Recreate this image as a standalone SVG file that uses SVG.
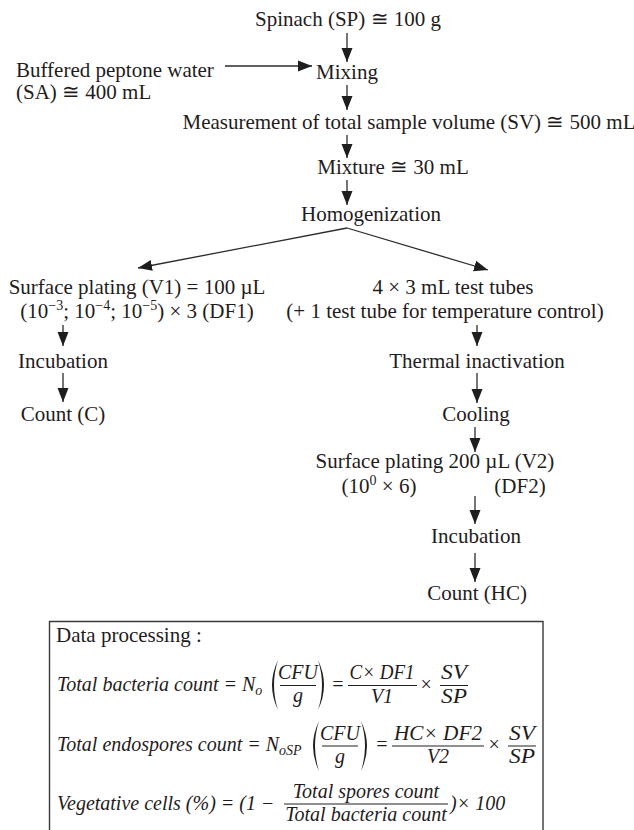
<svg xmlns="http://www.w3.org/2000/svg" width="634" height="830" viewBox="0 0 634 830">
  <style>
    .t { font-family: "Liberation Serif", "Times New Roman", serif; font-size: 21px; fill: #1f1c1d; }
    .c { text-anchor: middle; }
    .sup { font-size: 14px; }
    .m { font-family: "Liberation Serif", "Times New Roman", serif; font-style: italic; font-size: 20px; fill: #1f1c1d; }
    .mc { text-anchor: middle; }
    .sub { font-size: 14px; }
    .link { stroke: #2b2b2b; stroke-width: 1.3; fill: none; marker-end: url(#head); }
    .bar { stroke: #231f20; stroke-width: 1; }
    .paren { fill: #231f20; }
    .frame { stroke: #3a3a3a; stroke-width: 1.4; fill: none; }
  </style>
  <defs>
    <marker id="head" markerUnits="userSpaceOnUse" markerWidth="15" markerHeight="12" refX="14" refY="6" orient="auto">
      <path d="M0,0.5 L14,6 L0,11.5 Z" fill="#1e1e1e"/>
    </marker>
  </defs>

  <rect width="634" height="830" fill="#ffffff"/>

  <!-- connectors -->
  <g id="connectors">
    <line class="link" x1="347" y1="33" x2="347" y2="62"/>
    <line class="link" x1="225" y1="66" x2="312" y2="66"/>
    <line class="link" x1="347" y1="85" x2="347" y2="110"/>
    <line class="link" x1="347" y1="135" x2="347" y2="158"/>
    <line class="link" x1="347" y1="180" x2="347" y2="205"/>
    <line class="link" x1="347" y1="228" x2="138" y2="268"/>
    <line class="link" x1="347" y1="228" x2="488" y2="270"/>
    <line class="link" x1="63" y1="325" x2="63" y2="346"/>
    <line class="link" x1="63" y1="373" x2="63" y2="402"/>
    <line class="link" x1="477" y1="325" x2="477" y2="346"/>
    <line class="link" x1="477" y1="373" x2="477" y2="403"/>
    <line class="link" x1="475" y1="427" x2="475" y2="452"/>
    <line class="link" x1="475" y1="496" x2="475" y2="524"/>
    <line class="link" x1="475" y1="553" x2="475" y2="582"/>
  </g>

  <!-- process steps -->
  <g id="spinach"><text class="t c" x="348" y="26">Spinach (SP) ≅ 100 g</text></g>
  <g id="peptone">
    <text class="t" x="16" y="77" font-size="20.5">Buffered peptone water</text>
    <text class="t" x="16" y="99" font-size="20.5">(SA) ≅ 400 mL</text>
  </g>
  <g id="mixing"><text class="t c" x="347" y="79">Mixing</text></g>
  <g id="measurement"><text class="t c" x="409" y="129">Measurement of total sample volume (SV) ≅ 500 mL</text></g>
  <g id="mixture"><text class="t c" x="393" y="174">Mixture ≅ 30 mL</text></g>
  <g id="homogenization"><text class="t c" x="371" y="221">Homogenization</text></g>

  <g id="plating-v1">
    <text class="t c" x="137" y="294">Surface plating (V1) = 100 µL</text>
    <text class="t c" x="137" y="318">(10<tspan class="sup" dy="-8">−3</tspan><tspan dy="8">; 10</tspan><tspan class="sup" dy="-8">−4</tspan><tspan dy="8">; 10</tspan><tspan class="sup" dy="-8">−5</tspan><tspan dy="8">) × 3 (DF1)</tspan></text>
  </g>
  <g id="test-tubes">
    <text class="t c" x="453" y="294">4 × 3 mL test tubes</text>
    <text class="t c" x="445" y="318">(+ 1 test tube for temperature control)</text>
  </g>
  <g id="incubation-1"><text class="t c" x="63" y="368">Incubation</text></g>
  <g id="count-c"><text class="t c" x="63" y="421">Count (C)</text></g>
  <g id="thermal"><text class="t c" x="477" y="368">Thermal inactivation</text></g>
  <g id="cooling"><text class="t c" x="476" y="421">Cooling</text></g>
  <g id="plating-v2">
    <text class="t c" x="435" y="468">Surface plating 200 µL (V2)</text>
    <text class="t c" x="379" y="493">(10<tspan class="sup" dy="-8">0</tspan><tspan dy="8"> × 6)</tspan></text>
    <text class="t c" x="520" y="493">(DF2)</text>
  </g>
  <g id="incubation-2"><text class="t c" x="476" y="543">Incubation</text></g>
  <g id="count-hc"><text class="t c" x="477" y="600">Count (HC)</text></g>

  <!-- data processing panel -->
  <g id="data-processing">
    <path class="frame" d="M49.5,830 V621.5 H543 V830"/>
    <text class="t" x="56" y="642">Data processing :</text>

    <!-- total bacteria -->
    <text class="m" x="57" y="691">Total bacteria count = N<tspan class="sub" dy="4">o</tspan></text>
    <path class="paren" d="M278,660 Q266,685 278,710 Q270,685 278,660 Z"/>
    <text class="m mc" x="298" y="679" font-size="19">CFU</text>
    <line class="bar" x1="280" y1="685.5" x2="316" y2="685.5"/>
    <text class="m mc" x="298" y="702">g</text>
    <path class="paren" d="M318,660 Q330,685 318,710 Q326,685 318,660 Z"/>
    <text class="m" x="331" y="691">=</text>
    <text class="m mc" x="382" y="679" textLength="65" lengthAdjust="spacingAndGlyphs">C× DF1</text>
    <line class="bar" x1="348" y1="685.5" x2="417" y2="685.5"/>
    <text class="m mc" x="382" y="703">V1</text>
    <text class="m mc" x="426" y="691">×</text>
    <text class="m mc" x="454" y="679" textLength="26" lengthAdjust="spacingAndGlyphs">SV</text>
    <line class="bar" x1="440" y1="685.5" x2="468" y2="685.5"/>
    <text class="m mc" x="454" y="703" textLength="26" lengthAdjust="spacingAndGlyphs">SP</text>

    <!-- total endospores -->
    <text class="m" x="57" y="751">Total endospores count = N<tspan class="sub" dy="4">oSP</tspan></text>
    <path class="paren" d="M319,721 Q307,746 319,771 Q311,746 319,721 Z"/>
    <text class="m mc" x="340" y="740" font-size="19">CFU</text>
    <line class="bar" x1="322" y1="746" x2="358" y2="746"/>
    <text class="m mc" x="340" y="763">g</text>
    <path class="paren" d="M361,721 Q373,746 361,771 Q369,746 361,721 Z"/>
    <text class="m" x="375" y="751">=</text>
    <text class="m mc" x="438" y="740" textLength="88" lengthAdjust="spacingAndGlyphs">HC× DF2</text>
    <line class="bar" x1="392" y1="746" x2="484" y2="746"/>
    <text class="m mc" x="438" y="763">V2</text>
    <text class="m mc" x="494" y="751">×</text>
    <text class="m mc" x="522" y="740" textLength="26" lengthAdjust="spacingAndGlyphs">SV</text>
    <line class="bar" x1="508" y1="746" x2="536" y2="746"/>
    <text class="m mc" x="522" y="763" textLength="26" lengthAdjust="spacingAndGlyphs">SP</text>

    <!-- vegetative cells -->
    <text class="m" x="57" y="810">Vegetative cells (%) = (1 − </text>
    <text class="m mc" x="366" y="798">Total spores count</text>
    <line class="bar" x1="284" y1="804" x2="448" y2="804"/>
    <text class="m mc" x="366" y="821">Total bacteria count</text>
    <text class="m" x="450" y="810"> )× 100</text>
  </g>
</svg>
